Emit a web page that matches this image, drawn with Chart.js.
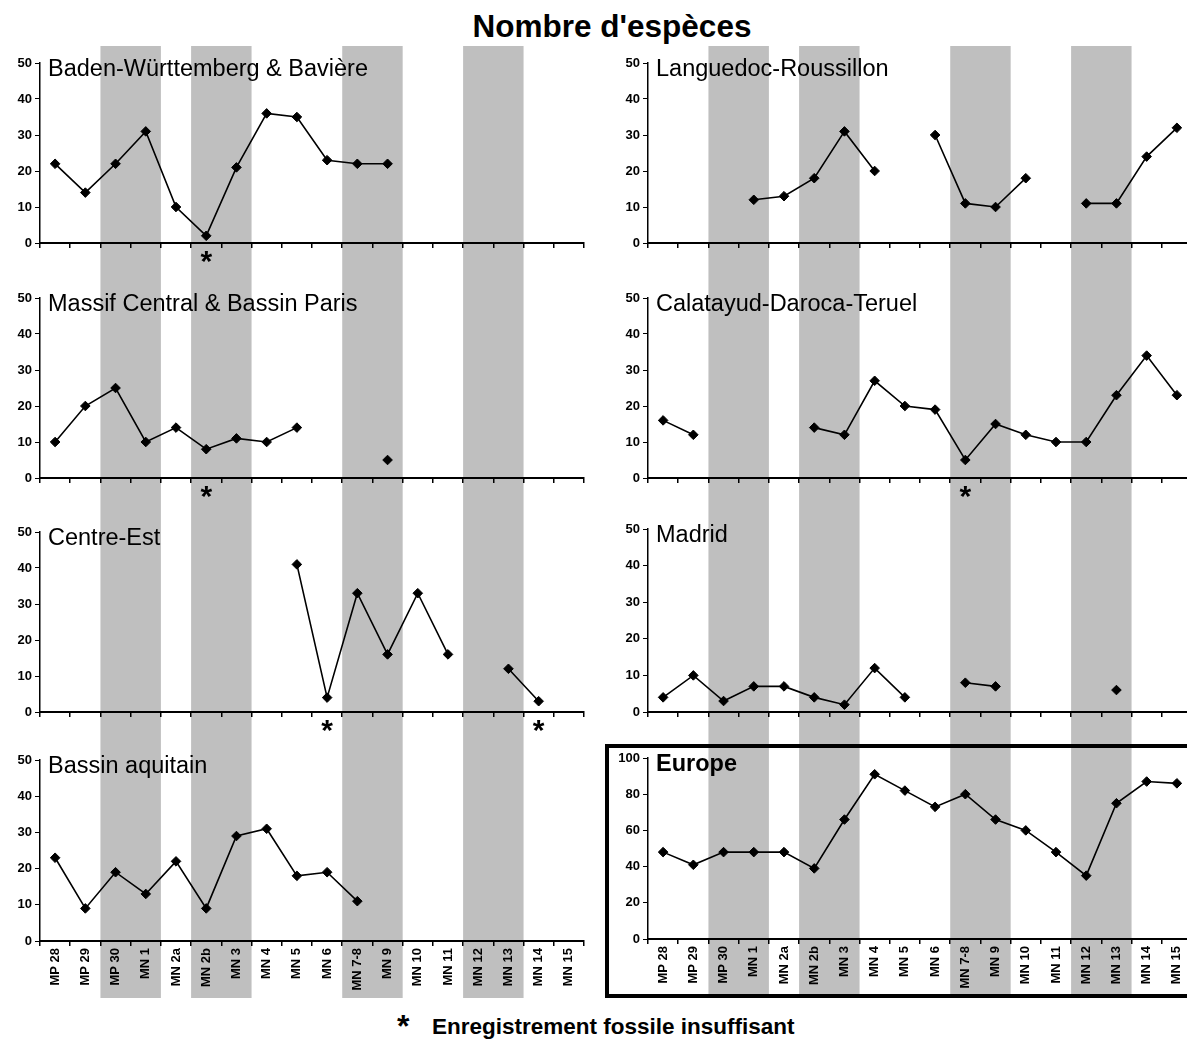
<!DOCTYPE html>
<html lang="fr">
<head>
<meta charset="utf-8">
<title>Nombre d'espèces</title>
<script src="https://cdn.jsdelivr.net/npm/chart.js@4.4.1/dist/chart.umd.min.js"></script>
<style>
  body {
    margin: 0;
    width: 1187px;
    height: 1039px;
    overflow: hidden;
    position: relative;
    background: #fff;
    font-family: 'Liberation Sans', Arial, sans-serif;
    color: #000;
  }
  canvas { position: absolute; }
  #titre {
    position: absolute;
    left: 0;
    width: 1224px;
    top: 11px;
    text-align: center;
    font-weight: bold;
    font-size: 31.5px;
    line-height: 31.5px;
  }
  #note-etoile {
    position: absolute;
    left: 397px;
    top: 1010px;
    font-weight: bold;
    font-size: 32px;
    line-height: 32px;
  }
  #note {
    position: absolute;
    left: 432px;
    top: 1016px;
    font-weight: bold;
    font-size: 22.5px;
    line-height: 22.5px;
  }
</style>
</head>
<body>
<div id="titre">Nombre d'espèces</div>
<div id="note-etoile">*</div>
<div id="note">Enregistrement fossile insuffisant</div>

<script>
/**
 * Nombre d'especes par region (biozones MP / MN)
 */

// Biozones (axe des x)
const categories = ['MP 28', 'MP 29', 'MP 30', 'MN 1', 'MN 2a', 'MN 2b', 'MN 3', 'MN 4', 'MN 5',
  'MN 6', 'MN 7-8', 'MN 9', 'MN 10', 'MN 11', 'MN 12', 'MN 13', 'MN 14', 'MN 15'];

// Valeurs (null = pas de donnee)
const badenValues     = [22, 14, 22, 31, 10, 2, 21, 36, 35, 23, 22, 22, null, null, null, null, null, null];
const massifValues    = [10, 20, 25, 10, 14, 8, 11, 10, 14, null, null, 5, null, null, null, null, null, null];
const centreEstValues = [null, null, null, null, null, null, null, null, 41, 4, 33, 16, 33, 16, null, 12, 3, null];
const aquitainValues  = [23, 9, 19, 13, 22, 9, 29, 31, 18, 19, 11, null, null, null, null, null, null, null];
const languedocValues = [null, null, null, 12, 13, 18, 31, 20, null, 30, 11, 10, 18, null, 11, 11, 24, 32];
const calatayudValues = [16, 12, null, null, null, 14, 12, 27, 20, 19, 5, 15, 12, 10, 10, 23, 34, 23];
const madridValues    = [4, 10, 3, 7, 7, 4, 2, 12, 4, null, 8, 7, null, null, null, 6, null, null];
const europeValues    = [48, 41, 48, 48, 48, 39, 66, 91, 82, 73, 80, 66, 60, 48, 35, 75, 87, 86];

// Enregistrement fossile insuffisant (asterisques)
const badenAsterisks     = ['MN 2b'];
const massifAsterisks    = ['MN 2b'];
const centreEstAsterisks = ['MN 6', 'MN 14'];
const calatayudAsterisks = ['MN 7-8'];

// Bandes grises (paires de biozones)
const shadedPairs = [['MP 30', 'MN 1'], ['MN 2b', 'MN 3'], ['MN 7-8', 'MN 9'], ['MN 12', 'MN 13']];

// Echelles verticales
const regionalMax = 50;
const europeMax = 100;

// Configuration globale
Chart.defaults.font.family = "'Liberation Sans', Arial, sans-serif";
Chart.defaults.color = '#000';

/**
 * Plugin : bandes grises verticales derriere les courbes
 */
const bandesPlugin = {
  id: 'bandes',
  beforeDraw(chart) {
    const x = chart.scales.x;
    const ctx = chart.ctx;
    const half = (x.getPixelForValue(1) - x.getPixelForValue(0)) / 2;
    ctx.save();
    ctx.fillStyle = '#bfbfbf';
    shadedPairs.forEach(([a, b]) => {
      const x0 = x.getPixelForValue(categories.indexOf(a)) - half;
      const x1 = x.getPixelForValue(categories.indexOf(b)) + half;
      ctx.fillRect(x0, 0, x1 - x0, chart.height);
    });
    ctx.restore();
  }
};

/**
 * Plugin : nom de la region, asterisques et cadre Europe
 */
const etiquettePlugin = {
  id: 'etiquette',
  afterDraw(chart, args, opts) {
    const ctx = chart.ctx;
    const area = chart.chartArea;
    const x = chart.scales.x;
    ctx.save();
    ctx.fillStyle = '#000';
    ctx.font = (opts.bold ? 'bold ' : '') + "23.5px 'Liberation Sans', Arial, sans-serif";
    ctx.fillText(opts.text, area.left + 8, area.top + 13);

    // asterisques sous l'axe (centres a 14 px sous l'axe)
    ctx.font = "bold 30px 'Liberation Sans', Arial, sans-serif";
    ctx.textAlign = 'center';
    const m = ctx.measureText('*');
    (opts.stars || []).forEach(cat => {
      const cx = x.getPixelForValue(categories.indexOf(cat));
      const cy = area.bottom + 14;
      ctx.fillText('*', cx, cy + (m.actualBoundingBoxAscent - m.actualBoundingBoxDescent) / 2);
    });

    // cadre autour du panneau Europe
    if (opts.box) {
      ctx.strokeStyle = '#000';
      ctx.lineWidth = 4;
      ctx.strokeRect(7, 6, 700, chart.height - 8);
    }
    ctx.restore();
  }
};

Chart.register(bandesPlugin, etiquettePlugin);

// Disposition des panneaux
const panels = [
  { label: 'Baden-Württemberg & Bavière', values: badenValues, stars: badenAsterisks,
    left: 0, top: 46, height: 224, yWidth: 40, padRight: 16, padTop: 17, xHeight: 27, max: regionalMax },
  { label: 'Massif Central & Bassin Paris', values: massifValues, stars: massifAsterisks,
    left: 0, top: 270, height: 235, yWidth: 40, padRight: 16, padTop: 28, xHeight: 27, max: regionalMax },
  { label: 'Centre-Est', values: centreEstValues, stars: centreEstAsterisks,
    left: 0, top: 505, height: 235, yWidth: 40, padRight: 16, padTop: 27, xHeight: 28, max: regionalMax },
  { label: 'Bassin aquitain', values: aquitainValues, stars: [], showLabels: true,
    left: 0, top: 740, height: 258, yWidth: 40, padRight: 16, padTop: 20, xHeight: 57, max: regionalMax },
  { label: 'Languedoc-Roussillon', values: languedocValues, stars: [],
    left: 600, top: 46, height: 224, yWidth: 48, padRight: 8, padTop: 17, xHeight: 27, max: regionalMax },
  { label: 'Calatayud-Daroca-Teruel', values: calatayudValues, stars: calatayudAsterisks,
    left: 600, top: 270, height: 235, yWidth: 48, padRight: 8, padTop: 28, xHeight: 27, max: regionalMax },
  { label: 'Madrid', values: madridValues, stars: [],
    left: 600, top: 505, height: 235, yWidth: 48, padRight: 8, padTop: 24, xHeight: 28, max: regionalMax },
  { label: 'Europe', values: europeValues, stars: [], showLabels: true, bold: true, box: true,
    left: 600, top: 740, height: 258, yWidth: 48, padRight: 8, padTop: 18, xHeight: 59, max: europeMax }
];

/**
 * Cree un panneau (un graphique par region)
 */
function createPanel(p) {
  const canvas = document.createElement('canvas');
  canvas.width = 600;
  canvas.height = p.height;
  canvas.style.left = p.left + 'px';
  canvas.style.top = p.top + 'px';
  document.body.appendChild(canvas);

  const minorStep = p.max / 10;
  const majorStep = p.max / 5;

  return new Chart(canvas.getContext('2d'), {
    type: 'line',
    data: {
      labels: categories,
      datasets: [{
        data: p.values,
        borderColor: '#000',
        backgroundColor: '#000',
        borderWidth: 1.6,
        pointStyle: 'rectRot',
        pointRadius: 4.8,
        pointBorderWidth: 1,
        pointBackgroundColor: '#000',
        spanGaps: false,
        tension: 0
      }]
    },
    options: {
      responsive: false,
      animation: false,
      events: [],
      layout: { padding: { top: p.padTop, right: p.padRight, bottom: 0, left: 0 } },
      plugins: {
        legend: { display: false },
        tooltip: { enabled: false },
        etiquette: { text: p.label, stars: p.stars, bold: p.bold, box: p.box }
      },
      scales: {
        x: {
          offset: true,
          grid: { offset: true, drawOnChartArea: false, tickLength: 5, color: '#000', lineWidth: 1.5 },
          border: { color: '#000', width: 2 },
          ticks: {
            display: !!p.showLabels,
            autoSkip: false,
            minRotation: 90,
            maxRotation: 90,
            padding: 2,
            font: { size: 13, weight: 'bold' }
          },
          afterFit: s => { s.height = p.xHeight; }
        },
        y: {
          min: 0,
          max: p.max,
          grid: { drawOnChartArea: false, tickLength: 5, color: '#000', lineWidth: 1 },
          border: { color: '#000', width: 1.5 },
          ticks: {
            stepSize: minorStep,
            padding: 3,
            font: { size: 13, weight: 'bold' },
            callback: v => (v % majorStep === 0 ? v : '')
          },
          afterFit: s => { s.width = p.yWidth; }
        }
      }
    }
  });
}

panels.forEach(createPanel);
</script>
</body>
</html>
